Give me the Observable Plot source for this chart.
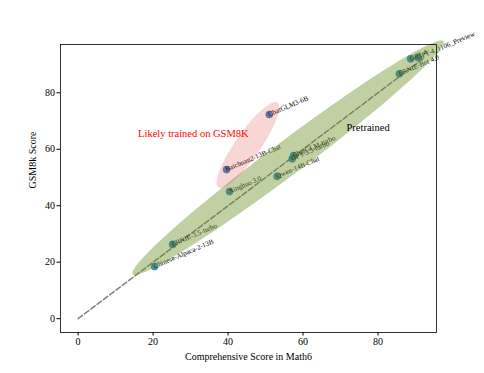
<!DOCTYPE html>
<html>
<head>
<meta charset="utf-8">
<script src="https://cdn.jsdelivr.net/npm/d3@7"></script>
<script src="https://cdn.jsdelivr.net/npm/@observablehq/plot@0.6"></script>
<style>
  html, body { margin: 0; padding: 0; background: #fff; }
  #chart svg { display: block; }
</style>
</head>
<body>
<div id="chart"></div>
<script>
// ---- data ----
const models = ["Chinese-Alpaca-2-13B", "ERNIE-3.5-turbo", "Xinghuo 3.0", "Baichuan2-13B-Chat",
  "ChatGLM3-6B", "Qwen-14B-Chat", "ChatGLM-turbo", "GPT-3.5-turbo", "ERNIE-Bot 4.0", "GPT-4", "GPT-4_1106_Preview"];
const math6 = [20.4, 25.2, 40.4, 39.6, 51.0, 53.1, 57.5, 57.1, 85.7, 88.7, 90.7];
const gsm8k = [18.5, 26.3, 45.0, 52.8, 72.3, 50.4, 57.8, 56.6, 86.7, 92.0, 92.4];
const xTicks = [0, 20, 40, 60, 80];
const yTicks = [0, 20, 40, 60, 80];
const diagonal = [0, 92];
// ellipse specs: [cx, cy, width, height, angle] in data units
const pretrainedEllipse = [56, 57, 117, 10.5, 45];
const gsmEllipse = [45.3, 61.5, 34, 7.2, 63];
const annotations = [
  {x: 16, y: 65.2, text: "Likely trained on GSM8K", color: "red"},
  {x: 71.6, y: 67, text: "Pretrained", color: "black"}
];

const pts = models.map((m, i) => ({name: m, x: math6[i], y: gsm8k[i]}));
const line = diagonal.map(v => ({x: v, y: v}));
function ellipse([cx, cy, w, h, a]) {
  const r = a * Math.PI / 180, out = [];
  for (let i = 0; i < 120; i++) {
    const t = 2 * Math.PI * i / 120;
    const ex = (w / 2) * Math.cos(t), ey = (h / 2) * Math.sin(t);
    out.push({x: cx + ex * Math.cos(r) - ey * Math.sin(r), y: cy + ex * Math.sin(r) + ey * Math.cos(r)});
  }
  return out;
}

const font = "'Liberation Serif', 'Times New Roman', serif";
const chart = Plot.plot({
  width: 484, height: 373,
  marginLeft: 60, marginRight: 48, marginTop: 44, marginBottom: 41,
  style: {fontFamily: font, fontSize: "10px", background: "white", overflow: "visible"},
  x: {domain: [-4.7, 95.6]},
  y: {domain: [-4.9, 97.1]},
  marks: [
    Plot.line(line, {x: "x", y: "y", stroke: "#808080", strokeWidth: 1.5, strokeDasharray: "5.5,2.4"}),
    Plot.dot(pts, {x: "x", y: "y", r: 3.8, fill: "#1f77b4", fillOpacity: 0.85, stroke: "none"}),
    Plot.text(pts, {x: "x", y: "y", text: "name", rotate: -23, textAnchor: "start", lineAnchor: "bottom", dy: 2, fontSize: 7, fill: "black"}),
    Plot.line(ellipse(pretrainedEllipse), {x: "x", y: "y", fill: "#6b8e23", fillOpacity: 0.42, stroke: "none", curve: "linear-closed"}),
    Plot.line(ellipse(gsmEllipse), {x: "x", y: "y", fill: "#e03030", fillOpacity: 0.2, stroke: "none", curve: "linear-closed"}),
    Plot.text(annotations, {x: "x", y: "y", text: "text", fill: "color", textAnchor: "start", lineAnchor: "bottom", dy: 2, fontSize: 10.5}),
    Plot.frame({stroke: "black", strokeWidth: 0.8}),
    Plot.axisX({ticks: xTicks, tickSize: 3.5, tickPadding: 2, label: null, fontSize: 10}),
    Plot.axisY({ticks: yTicks, tickSize: 3.5, tickPadding: 2, label: null, fontSize: 10}),
    Plot.text(["Comprehensive Score in Math6"], {frameAnchor: "bottom", dy: 24, lineAnchor: "middle", fontSize: 10}),
    Plot.text(["GSM8k Score"], {frameAnchor: "left", dx: -28, rotate: -90, lineAnchor: "middle", fontSize: 10})
  ]
});
document.getElementById("chart").appendChild(chart);
</script>
</body>
</html>
